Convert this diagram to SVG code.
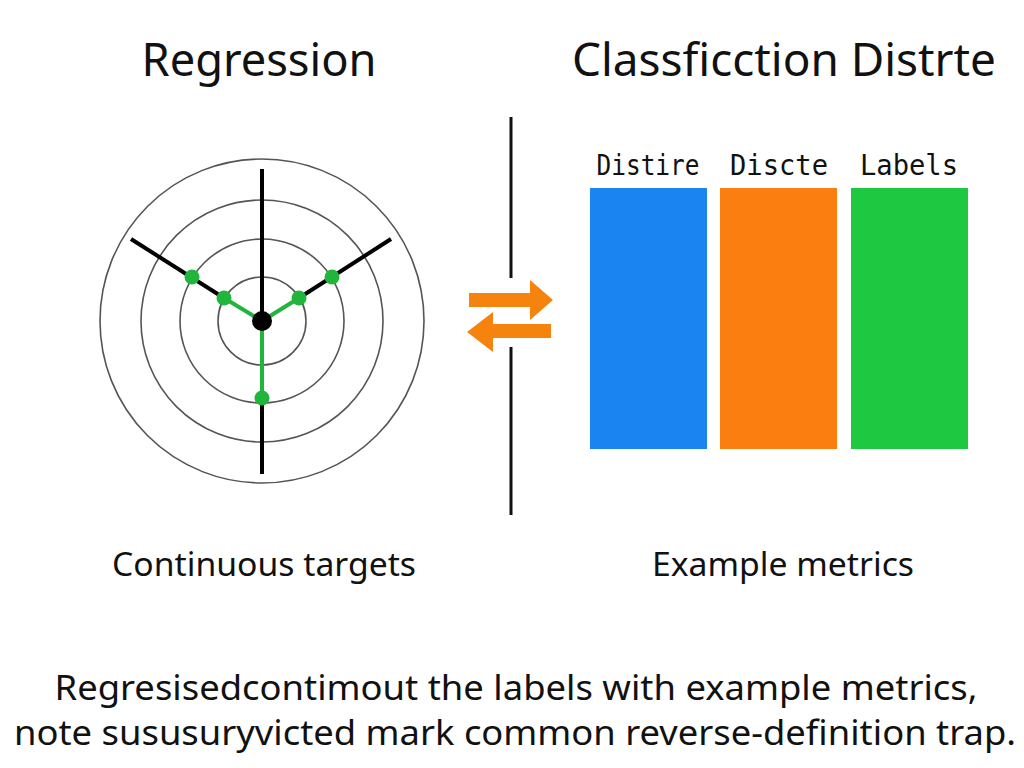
<svg xmlns="http://www.w3.org/2000/svg" width="1024" height="768" viewBox="0 0 1024 768">
<style>
.t{font-family:"Noto Sans","DejaVu Sans",sans-serif;fill:#111;text-anchor:middle}
.m{font-family:"DejaVu Sans Mono","Liberation Mono",monospace;fill:#111;text-anchor:middle;font-size:28px}
.ring{fill:none;stroke:#555;stroke-width:1.6}
.blk{stroke:#000;stroke-width:4;fill:none;stroke-linecap:butt}
.grn{stroke:#22b53c;stroke-width:4;fill:none}
.dot{fill:#22b53c}
.arr{fill:#f7830f}
</style>
<rect width="1024" height="768" fill="#fff"/>
<g id="titles">
<text class="t" x="259" y="76" font-size="46" textLength="235" lengthAdjust="spacingAndGlyphs">Regression</text>
<text class="t" x="784" y="76" font-size="46" textLength="424" lengthAdjust="spacingAndGlyphs">Classficction Distrte</text>
</g>
<g id="radar">
<circle class="ring" cx="262" cy="321" r="44"/>
<circle class="ring" cx="262" cy="321" r="82"/>
<circle class="ring" cx="262" cy="321" r="121"/>
<circle class="ring" cx="262" cy="321" r="162"/>
</g>
<g id="connectors">
<line class="blk" x1="262" y1="169" x2="262" y2="321"/>
<line class="blk" x1="262" y1="398" x2="262" y2="474"/>
<line class="blk" x1="131" y1="239" x2="224" y2="298"/>
<line class="blk" x1="391" y1="239" x2="299" y2="298"/>
<line class="grn" x1="224" y1="298" x2="262" y2="321"/>
<line class="grn" x1="299" y1="298" x2="262" y2="321"/>
<line class="grn" x1="262" y1="321" x2="262" y2="398"/>
<line stroke="#111" stroke-width="3" x1="511" y1="117" x2="511" y2="278"/>
<line stroke="#111" stroke-width="3" x1="511" y1="347" x2="511" y2="515"/>
</g>
<g id="dots">
<circle class="dot" cx="192" cy="277" r="7.5"/>
<circle class="dot" cx="224" cy="298" r="7.5"/>
<circle class="dot" cx="299" cy="298" r="7.5"/>
<circle class="dot" cx="332" cy="277" r="7.5"/>
<circle class="dot" cx="262" cy="398" r="7.5"/>
<circle cx="262" cy="321" r="10" fill="#000"/>
</g>
<g id="swap">
<polygon class="arr" points="469,293 530,293 530,280 553,300 530,320 530,307 469,307"/>
<polygon class="arr" points="551,324 493,324 493,312 467,332 493,352 493,338 551,338"/>
</g>
<g id="bars">
<text class="m" x="648" y="175" textLength="103" lengthAdjust="spacingAndGlyphs">Distire</text>
<text class="m" x="779" y="175" textLength="98" lengthAdjust="spacingAndGlyphs">Discte</text>
<text class="m" x="909" y="175" textLength="98" lengthAdjust="spacingAndGlyphs">Labels</text>
<rect x="590" y="188" width="117" height="261" fill="#1a85f0"/>
<rect x="720" y="188" width="117" height="261" fill="#fb7f10"/>
<rect x="851" y="188" width="117" height="261" fill="#1ec840"/>
</g>
<g id="captions">
<text class="t" x="264" y="576" font-size="33" textLength="304" lengthAdjust="spacingAndGlyphs">Continuous targets</text>
<text class="t" x="783" y="576" font-size="33" textLength="262" lengthAdjust="spacingAndGlyphs">Example metrics</text>
</g>
<g id="note">
<text class="t" x="516" y="700" font-size="35" textLength="923" lengthAdjust="spacingAndGlyphs">Regresisedcontimout the labels with example metrics,</text>
<text class="t" x="515" y="745" font-size="35" textLength="1002" lengthAdjust="spacingAndGlyphs">note sususuryvicted mark common reverse-definition trap.</text>
</g>
</svg>
